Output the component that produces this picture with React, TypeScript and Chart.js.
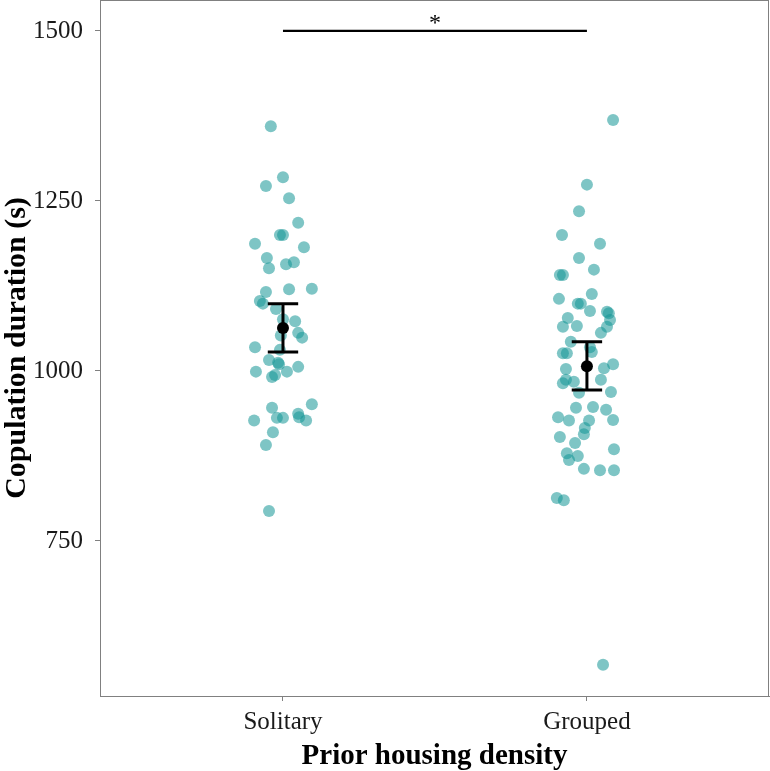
import React, { useEffect, useRef } from "react";
import { Chart, registerables } from "chart.js";

Chart.register(...registerables);

const categories = ["Solitary", "Grouped"];
const categoryPositions = [1, 2];
const yTicks = [750, 1000, 1250, 1500];

// jitter offsets (category units) and values
const solitaryJitter = [
  -0.04, 0.0, -0.056, 0.02, 0.05, -0.01, 0.0, -0.092, 0.069, -0.053, 0.036, 0.01, -0.046,
  0.095, 0.02, -0.056, -0.076, -0.066, -0.023, 0.0, 0.04, 0.05, 0.063, -0.007, -0.092,
  -0.01, -0.046, -0.016, -0.013, 0.05, 0.013, -0.089, -0.036, -0.026, 0.095, -0.036,
  -0.02, 0.0, 0.05, 0.053, 0.076, -0.095, -0.033, -0.056, -0.046,
];
const solitaryValues = [
  1360, 1285, 1272, 1254, 1218, 1200, 1200, 1187, 1182, 1166, 1160, 1157, 1151,
  1121, 1120, 1116, 1103, 1099, 1091, 1076, 1073, 1056, 1049, 1052, 1035,
  1031, 1016, 1012, 1010, 1006, 999, 999, 991, 994, 951, 946,
  931, 931, 937, 932, 927, 927, 910, 891, 794,
];
const groupedJitter = [
  0.086, 0.0, -0.026, -0.082, 0.043, -0.026, -0.089, -0.079, 0.023, -0.092, -0.03, -0.02,
  0.016, 0.01, 0.066, 0.072, -0.063, 0.076, -0.079, -0.033, 0.066, 0.046, -0.053, 0.01,
  0.016, -0.079, -0.066, 0.086, 0.056, -0.069, 0.046, -0.079, -0.069, -0.043, -0.026,
  0.079, -0.036, 0.02, 0.063, -0.095, -0.059, 0.007, 0.086, -0.007, -0.01, -0.089,
  -0.039, 0.089, -0.066, -0.059, -0.03, -0.01, 0.043, 0.089, -0.099, -0.076, 0.053,
];
const groupedValues = [
  1369, 1274, 1235, 1200, 1187, 1166, 1141, 1141, 1149, 1106, 1099, 1099,
  1113, 1088, 1087, 1085, 1078, 1075, 1065, 1066, 1065, 1056, 1043, 1035,
  1028, 1026, 1026, 1010, 1004, 1003, 987, 982, 987, 984, 968,
  969, 946, 947, 943, 932, 927, 927, 928, 916, 907, 903,
  894, 885, 879, 869, 875, 856, 854, 854, 813, 810, 568,
];
const means = [1063, 1007];
const errLow = [1028, 972];
const errHigh = [1099, 1043];
const sigLevel = 1500;
const sigLabel = "*";

const FONT = "'Liberation Serif', 'DejaVu Serif', serif";
const GRAY = "#808080";

const zeroPad = (s: any) => {
  s.paddingTop = 0;
  s.paddingBottom = 0;
  s.paddingLeft = 0;
  s.paddingRight = 0;
};

const overlayPlugin = {
  id: "overlay",
  beforeDatasetsDraw(chart: any) {
    const { ctx, chartArea } = chart;
    ctx.save();
    ctx.strokeStyle = GRAY;
    ctx.lineWidth = 1;
    ctx.strokeRect(chartArea.left + 0.5, chartArea.top + 0.5, chartArea.right - chartArea.left - 1, chartArea.bottom - chartArea.top);
    ctx.restore();
  },
  afterDatasetsDraw(chart: any) {
    const { ctx, scales } = chart;
    const xs = scales.x;
    const ys = scales.y;
    ctx.save();
    ctx.strokeStyle = "#000";
    ctx.lineWidth = 3;
    ctx.lineCap = "butt";
    const cap = 0.05;
    for (let i = 0; i < categoryPositions.length; i++) {
      const c = categoryPositions[i];
      const x = xs.getPixelForValue(c);
      const x0 = xs.getPixelForValue(c - cap);
      const x1 = xs.getPixelForValue(c + cap);
      const yl = ys.getPixelForValue(errLow[i]);
      const yh = ys.getPixelForValue(errHigh[i]);
      ctx.beginPath();
      ctx.moveTo(x, yl);
      ctx.lineTo(x, yh);
      ctx.moveTo(x0, yl);
      ctx.lineTo(x1, yl);
      ctx.moveTo(x0, yh);
      ctx.lineTo(x1, yh);
      ctx.stroke();
    }
    // significance bar
    const sy = ys.getPixelForValue(sigLevel);
    const sx0 = xs.getPixelForValue(categoryPositions[0]);
    const sx1 = xs.getPixelForValue(categoryPositions[1]);
    ctx.lineWidth = 2.2;
    ctx.beginPath();
    ctx.moveTo(sx0, sy);
    ctx.lineTo(sx1, sy);
    ctx.stroke();
    ctx.fillStyle = "#000";
    ctx.font = `24px ${FONT}`;
    ctx.textAlign = "center";
    ctx.textBaseline = "alphabetic";
    ctx.fillText(sigLabel, (sx0 + sx1) / 2, sy - 1);
    ctx.restore();
  },
};

export default function App() {
  const ref = useRef<HTMLCanvasElement | null>(null);
  useEffect(() => {
    if (!ref.current) return;
    const solitary = solitaryValues.map((v, i) => ({ x: categoryPositions[0] + solitaryJitter[i], y: v }));
    const grouped = groupedValues.map((v, i) => ({ x: categoryPositions[1] + groupedJitter[i], y: v }));
    const meanPts = means.map((m, i) => ({ x: categoryPositions[i], y: m }));
    const pointStyle = {
      backgroundColor: "rgba(20,150,150,0.55)",
      borderWidth: 0,
      pointRadius: 6,
      pointHoverRadius: 6,
    };
    const chart = new Chart(ref.current, {
      type: "scatter",
      data: {
        datasets: [
          { label: categories[0], data: solitary, ...pointStyle },
          { label: categories[1], data: grouped, ...pointStyle },
          { label: "Mean", data: meanPts, backgroundColor: "#000", borderWidth: 0, pointRadius: 6, order: -1 },
        ],
      },
      options: {
        animation: false,
        responsive: true,
        maintainAspectRatio: false,
        layout: { autoPadding: false, padding: { top: 0, right: 1, left: 0, bottom: 0 } },
        plugins: { legend: { display: false }, tooltip: { enabled: false } },
        scales: {
          x: {
            type: "linear",
            min: 0.398,
            max: 2.599,
            afterBuildTicks: (s: any) => {
              s.ticks = categoryPositions.map((v) => ({ value: v }));
            },
            afterFit: (s: any) => {
              s.height = 75;
              zeroPad(s);
            },
            ticks: {
              callback: (v: any) => {
                const i = categoryPositions.indexOf(Number(v));
                return i >= 0 ? categories[i] : "";
              },
              font: { family: FONT, size: 25 },
              color: "#1a1a1a",
              padding: 6,
              maxRotation: 0,
            },
            grid: { drawOnChartArea: false, tickLength: 5, tickColor: GRAY, color: GRAY },
            border: { display: true, color: GRAY, width: 1 },
            title: {
              display: true,
              text: "Prior housing density",
              font: { family: FONT, size: 29, weight: "bold" },
              color: "#000",
              padding: { top: 0, bottom: -3 },
            },
          },
          y: {
            type: "linear",
            min: 522,
            max: 1545.5,
            afterBuildTicks: (s: any) => {
              s.ticks = yTicks.map((v) => ({ value: v }));
            },
            afterFit: (s: any) => {
              s.width = 100;
              zeroPad(s);
            },
            ticks: {
              font: { family: FONT, size: 25 },
              color: "#1a1a1a",
              padding: 12,
              callback: (v: any) => String(v),
            },
            grid: { drawOnChartArea: false, tickLength: 5, tickColor: GRAY, color: GRAY },
            border: { display: true, color: GRAY, width: 1 },
            title: {
              display: true,
              text: "Copulation duration (s)",
              font: { family: FONT, size: 30, weight: "bold" },
              color: "#000",
              padding: { top: -1, bottom: 0 },
            },
          },
        },
      },
      plugins: [overlayPlugin],
    });
    return () => chart.destroy();
  }, []);
  return (
    <div style={{ position: "absolute", left: 0, top: 0, width: 770, height: 771, background: "#fff" }}>
      <canvas ref={ref} />
    </div>
  );
}
